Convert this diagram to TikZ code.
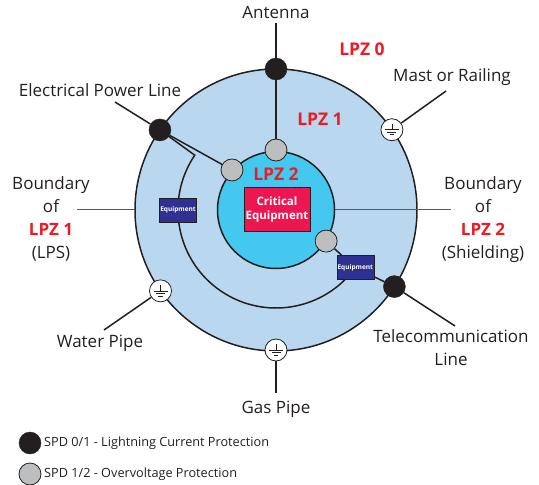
\documentclass[tikz,border=0pt]{standalone}
\usepackage{fontspec}
\setmainfont{Open Sans}
\usetikzlibrary{calc}
\definecolor{zoneone}{HTML}{B9D8EF}
\definecolor{zonetwo}{HTML}{45C8F0}
\definecolor{lpzred}{HTML}{ED1C24}
\definecolor{critred}{HTML}{EE1650}
\definecolor{eqblue}{HTML}{2E3192}
\definecolor{spdblack}{HTML}{231F20}
\definecolor{spdgray}{HTML}{BCBEC0}
\definecolor{linegray}{HTML}{58595B}
\definecolor{textgray}{HTML}{231F20}
\pgfdeclarelayer{bg}
\pgfdeclarelayer{mid}
\pgfsetlayers{bg,mid,main}
\tikzset{
  ring/.style={draw=spdblack, line width=1.5pt},
  wire/.style={draw=spdblack, line width=1.5pt},
  bline/.style={draw=linegray, line width=1pt},
  spdone/.style={circle, fill=spdblack, draw=spdblack, minimum size=22pt, inner sep=0pt},
  spdtwo/.style={circle, fill=spdgray, draw=spdblack, line width=0.8pt, minimum size=22pt, inner sep=0pt},
  groundsym/.style={circle, fill=white, draw=spdblack, line width=0.8pt, minimum size=22pt, inner sep=0pt,
    path picture={
      \draw[line width=0.6pt] ([yshift=6pt]path picture bounding box.center) -- ([yshift=0pt]path picture bounding box.center);
      \draw[line width=0.6pt] ([xshift=-7pt]path picture bounding box.center) -- ([xshift=7pt]path picture bounding box.center);
      \draw[line width=0.6pt] ([xshift=-4.5pt,yshift=-2.5pt]path picture bounding box.center) -- ([xshift=4.5pt,yshift=-2.5pt]path picture bounding box.center);
      \draw[line width=0.6pt] ([xshift=-2.2pt,yshift=-5pt]path picture bounding box.center) -- ([xshift=2.2pt,yshift=-5pt]path picture bounding box.center);
    }},
  eqbox/.style={rectangle, fill=eqblue, draw=spdblack, line width=0.5pt, minimum width=37pt, minimum height=24pt, inner sep=0pt,
    text=white, font=\fontsize{6.5}{7}\selectfont\bfseries},
  critbox/.style={rectangle, fill=critred, draw=spdblack, line width=0.5pt, minimum width=66pt, minimum height=44pt, inner sep=0pt,
    text=white, font=\fontsize{11.5}{14.5}\selectfont\bfseries, align=center},
  lbl/.style={text=textgray, font=\fontsize{17}{23}\selectfont, align=center, inner sep=0pt},
  lpz/.style={text=lpzred, font=\fontsize{17.5}{18}\selectfont\bfseries, inner sep=0pt},
  legtext/.style={text=textgray, font=\fontsize{12.7}{14}\selectfont, anchor=west, inner sep=0pt}
}
\begin{document}
\begin{tikzpicture}[x=1pt,y=-1pt]
\useasboundingbox (0,0) rectangle (539,485);
\coordinate (C) at (276,210);
% zones
\begin{pgfonlayer}{bg}
  \fill[zoneone] (C) circle (141);
  \draw[ring] (C) circle (141);
\end{pgfonlayer}
% SPDs and terminals
\node[spdone] (ant) at ($(C)+(-90:141)$) {};
\node[spdone] (pl) at ($(C)+(-145.4:141)$) {};
\node[spdone] (tel) at ($(C)+(32.9:141)$) {};
\node[groundsym] (mast) at ($(C)+(-34.7:141)$) {};
\node[groundsym] (wat) at ($(C)+(145:141)$) {};
\node[groundsym] (gas) at ($(C)+(90:140)$) {};
\node[eqbox] (eqL) at ($(C)+(180:98)$) {Equipment};
\node[eqbox] (eqR) at ($(C)+(36:98)$) {Equipment};
\begin{pgfonlayer}{bg}
  \draw[wire] (pl.center) -- ($(C)+(214:98)$) arc[start angle=214, end angle=36, radius=98];
  \fill[zonetwo] (C) circle (58.5);
  \draw[ring] (C) circle (58.5);
\end{pgfonlayer}
\node[spdtwo] (gtop) at ($(C)+(-90:60)$) {};
\node[spdtwo] (gleft) at ($(C)+(-137.7:59.5)$) {};
\node[spdtwo] (gright) at ($(C)+(31.8:59)$) {};
\node[critbox] (crit) at (277,209.5) {Critical\\Equipment};
% labels
\node[lbl] (antlbl) at (276,12) {Antenna};
\node[lpz] (lpz0) at (362,49) {LPZ 0};
\node[lbl] (mastlbl) at (452,77) {Mast or Railing};
\node[lbl] (pllbl) at (100,90) {Electrical Power Line};
\node[lpz] (lpz1) at (320,119) {LPZ 1};
\node[lpz] (lpz2) at (276,174) {LPZ 2};
\node[lbl, anchor=north] (bl) at (51,176) {Boundary\\of\\\textcolor{lpzred}{\bfseries LPZ 1}\\(LPS)};
\node[lbl, anchor=north] (br) at (483,176) {Boundary\\of\\\textcolor{lpzred}{\bfseries LPZ 2}\\(Shielding)};
\node[lbl] (watlbl) at (100,343) {Water Pipe};
\node[lbl, anchor=north] (tellbl) at (451,329) {Telecommunication\\Line};
\node[lbl] (gaslbl) at (276,409) {Gas Pipe};
% free ends
\coordinate (antend) at (276,23);
\coordinate (plend) at (115,102);
\coordinate (mastend) at (446,91);
\coordinate (watend) at (104,330);
\coordinate (telend) at (455,326);
\coordinate (gasend) at (276,393);
\coordinate (blA) at (77,209);
\coordinate (blB) at (135,209);
\coordinate (brA) at (335,209);
\coordinate (brB) at (451,209);
% connectors
\begin{pgfonlayer}{mid}
  \draw[wire] (antend) -- (ant) -- (gtop);
  \draw[wire] (plend) -- (pl) -- (gleft);
  \draw[wire] (mast) -- (mastend);
  \draw[wire] (wat) -- (watend);
  \draw[wire] (gas) -- (gasend);
  \draw[wire] (gright) -- (eqR) -- (tel) -- (telend);
  \draw[bline] (blA) -- (blB);
  \draw[bline] (brA) -- (brB);
\end{pgfonlayer}
% legend
\node[spdone] (leg1) at (30,443) {};
\node[legtext] (leg1t) at (44,443) {SPD 0/1 - Lightning Current Protection};
\node[spdtwo] (leg2) at (30,474) {};
\node[legtext] (leg2t) at (44,474) {SPD 1/2 - Overvoltage Protection};
\end{tikzpicture}
\end{document}
